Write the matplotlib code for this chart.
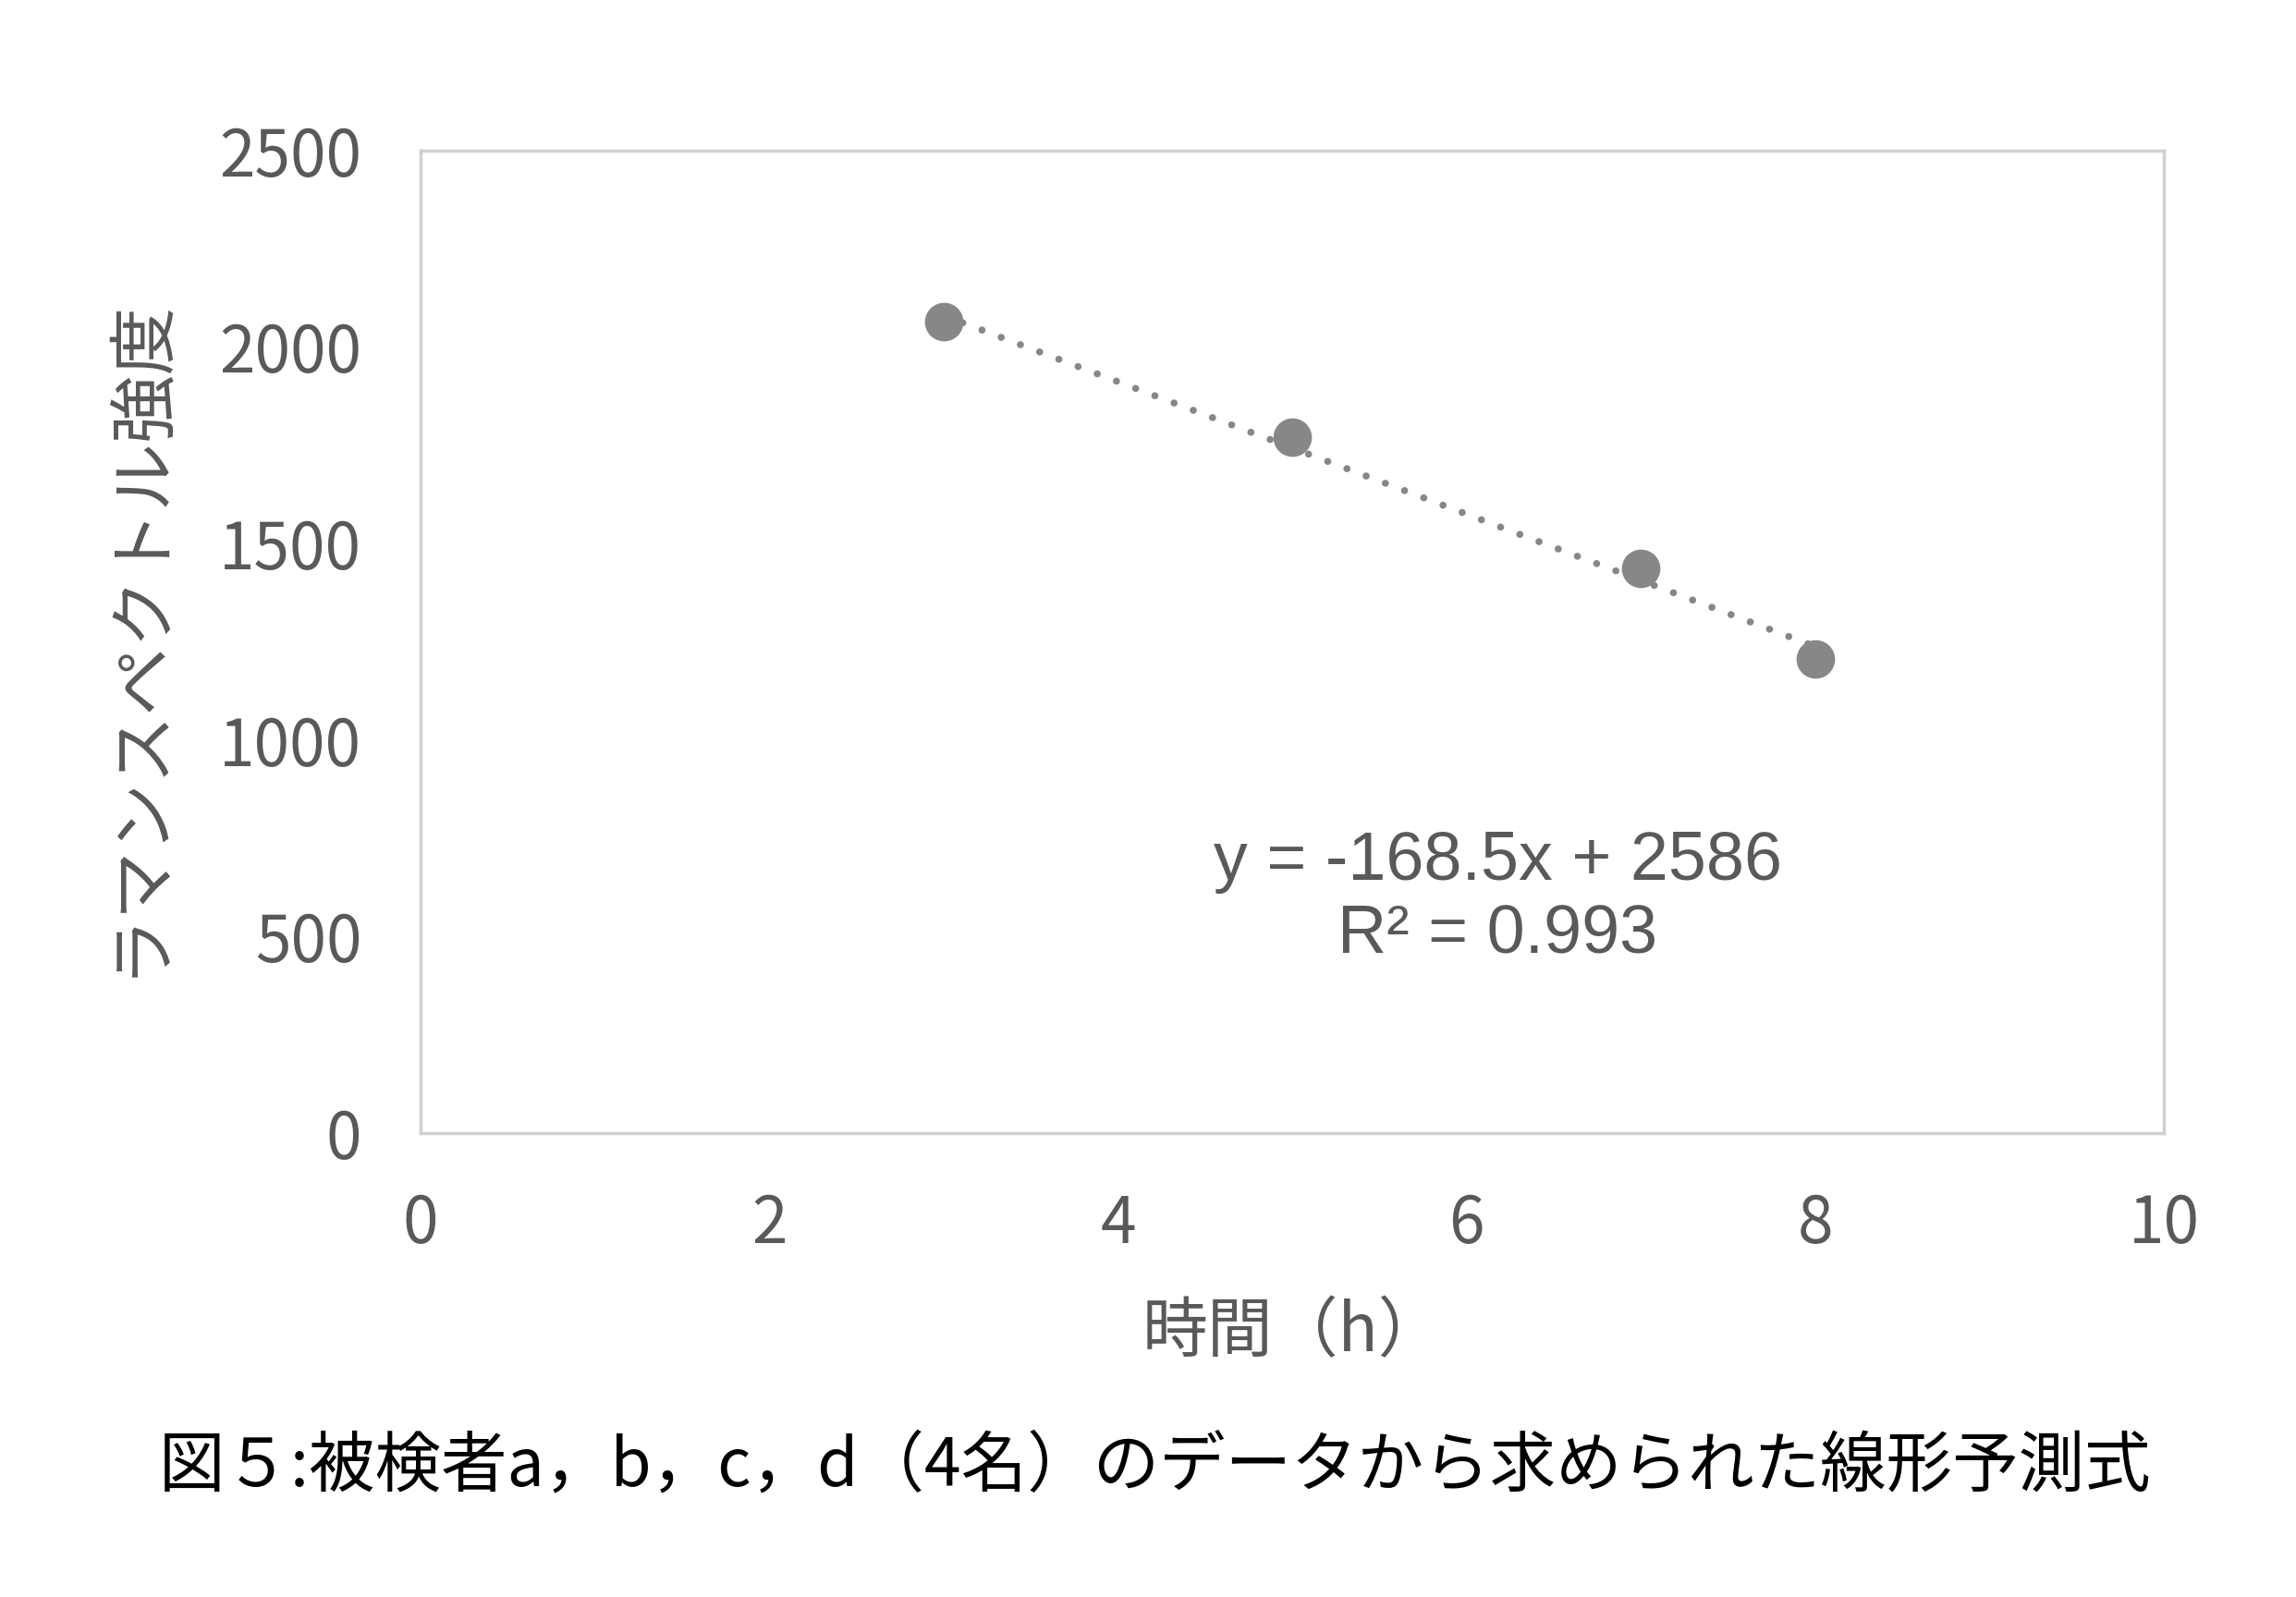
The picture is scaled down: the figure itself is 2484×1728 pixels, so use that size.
import matplotlib
matplotlib.use("Agg")
import matplotlib.pyplot as plt
import numpy as np

plt.rcParams["font.family"] = ["Noto Sans CJK JP", "DejaVu Sans"]

# data
hours = [3, 5, 7, 8]
intensity = [2064, 1770, 1438, 1207]
slope, intercept, r2 = -168.5, 2586, 0.993

x_ticks = [0, 2, 4, 6, 8, 10]
y_ticks = [0, 500, 1000, 1500, 2000, 2500]

GREY_TXT = "#595959"
GREY_PT = "#878787"
GREY_SPINE = "#D0D0D0"

fig = plt.figure(figsize=(24.84, 17.28), dpi=100)
ax = fig.add_axes([0.1832, 0.2905, 0.7592, 0.6152])

ax.plot(hours, intensity, "o", color=GREY_PT, markersize=29, zorder=3)

# linear trendline over the data range
tx = np.array([min(hours), max(hours)])
ax.plot(tx, slope * tx + intercept, color=GREY_PT, linewidth=5.5,
        linestyle=(0, (0.01, 2.9)), dash_capstyle="round", zorder=4)

ax.text(0.618, 0.2385, f"y = {slope}x + {intercept}\nR² = {r2}",
        transform=ax.transAxes, ha="center", va="center",
        fontsize=53, color=GREY_TXT, family="Liberation Sans", linespacing=1.2)

ax.set_xlim(0, 10)
ax.set_ylim(0, 2500)
ax.set_xticks(x_ticks)
ax.set_yticks(y_ticks)
ax.tick_params(length=0, labelsize=50, labelcolor=GREY_TXT, pad=46)

for s in ax.spines.values():
    s.set_color(GREY_SPINE)
    s.set_linewidth(2.5)

fig.text(0.563, 0.1655, "時間（h）", ha="center", va="center",
         fontsize=51, color=GREY_TXT)
fig.text(0.061, 0.6015, "ラマンスペクトル強度", ha="center", va="center",
         rotation=90, fontsize=53, color=GREY_TXT)
fig.text(0.503, 0.0815, "図５:被検者a，b，c，d（4名）のデータから求められた線形予測式",
         ha="center", va="center", fontsize=51.5, color="black")

fig.savefig("out.png", dpi=100, facecolor="white")
